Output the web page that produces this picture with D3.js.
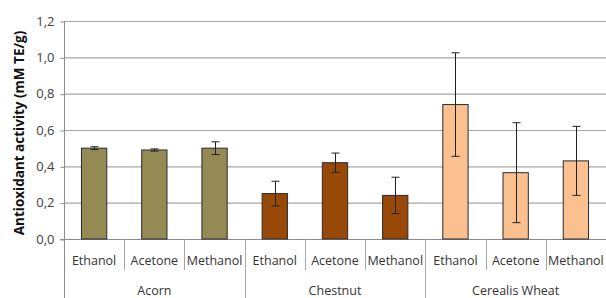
<!DOCTYPE html>
<html>
<head>
<meta charset="utf-8">
<script src="https://cdn.jsdelivr.net/npm/d3@7"></script>
<style>
  body { margin: 0; background: #fff; }
  text { font-family: "Open Sans", "Liberation Sans", sans-serif; }
</style>
</head>
<body>
<svg id="chart" width="606" height="298"></svg>
<script>
// data
const groups = ["Acorn", "Chestnut", "Cerealis Wheat"];
const solvents = ["Ethanol", "Acetone", "Methanol"];
const values = [
  [0.50, 0.49, 0.50],
  [0.25, 0.42, 0.24],
  [0.74, 0.365, 0.43]
];
const errors = [
  [0.008, 0.006, 0.035],
  [0.068, 0.053, 0.10],
  [0.285, 0.275, 0.19]
];
const yTicks = [0, 0.2, 0.4, 0.6, 0.8, 1.0, 1.2];
const colors = ["#948a54", "#984807", "#fac090"];

const svg = d3.select("#chart");
const plotLeft = 64, plotRight = 606, plotTop = 21, plotBottom = 239;

const data = [];
groups.forEach((g, gi) => solvents.forEach((s, si) => data.push({
  key: g + "|" + s, group: g, solvent: s, gi,
  value: values[gi][si], err: errors[gi][si]
})));

const x = d3.scaleBand()
  .domain(data.map(d => d.key))
  .range([plotLeft, plotRight])
  .paddingInner(0)
  .paddingOuter(0);

const y = d3.scaleLinear().domain([0, 1.2]).range([plotBottom, plotTop]);

// gridlines
svg.append("g")
  .selectAll("line")
  .data(yTicks.slice(1))
  .enter().append("line")
    .attr("x1", plotLeft).attr("x2", plotRight)
    .attr("y1", d => y(d) + 0.5).attr("y2", d => y(d) + 0.5)
    .attr("stroke", "#a6a6a6").attr("stroke-width", 1.2);

// y axis
const yAxis = svg.append("g")
  .attr("transform", `translate(${plotLeft + 0.5},0)`)
  .call(d3.axisLeft(y).tickValues(yTicks).tickSize(4).tickPadding(6)
    .tickFormat(d => d3.format(".1f")(d).replace(".", ",")));
yAxis.select(".domain").remove();
yAxis.selectAll(".tick line").attr("stroke", "#8c8c8c").attr("transform", "translate(0,0.5)");
yAxis.selectAll(".tick text")
  .attr("font-size", "13px").attr("fill", "#404040")
  .attr("font-family", "'Open Sans', sans-serif");

// axis lines
svg.append("line")
  .attr("x1", plotLeft + 0.5).attr("x2", plotLeft + 0.5)
  .attr("y1", plotTop).attr("y2", 298)
  .attr("stroke", "#8c8c8c");
svg.append("line")
  .attr("x1", plotLeft - 4).attr("x2", plotRight)
  .attr("y1", plotBottom + 0.5).attr("y2", plotBottom + 0.5)
  .attr("stroke", "#8c8c8c").attr("stroke-width", 1.2);

// bars
const bw = x.bandwidth() * 0.42;
svg.append("g")
  .selectAll("rect")
  .data(data)
  .enter().append("rect")
    .attr("x", d => x(d.key) + (x.bandwidth() - bw) / 2)
    .attr("y", d => y(d.value))
    .attr("width", bw)
    .attr("height", d => plotBottom - y(d.value))
    .attr("fill", d => colors[d.gi])
    .attr("stroke", "#2b2b2b")
    .attr("stroke-width", 1);

// error bars
const eb = svg.append("g").attr("stroke", "#222").attr("stroke-width", 1);
data.forEach(d => {
  const cx = Math.round(x(d.key) + x.bandwidth() / 2) + 0.5;
  const y1 = y(d.value + d.err), y2 = y(d.value - d.err);
  eb.append("line").attr("x1", cx).attr("x2", cx).attr("y1", y1).attr("y2", y2);
  eb.append("line").attr("x1", cx - 4).attr("x2", cx + 4).attr("y1", y1).attr("y2", y1);
  eb.append("line").attr("x1", cx - 4).attr("x2", cx + 4).attr("y1", y2).attr("y2", y2);
});

// category separators
svg.append("g")
  .selectAll("line")
  .data(data.slice(1))
  .enter().append("line")
    .attr("x1", d => Math.round(x(d.key)) + 0.5)
    .attr("x2", d => Math.round(x(d.key)) + 0.5)
    .attr("y1", plotBottom)
    .attr("y2", d => solvents.indexOf(d.solvent) === 0 ? 298 : 270)
    .attr("stroke", "#a6a6a6");

// solvent labels
svg.append("g")
  .selectAll("text")
  .data(data)
  .enter().append("text")
    .attr("x", d => x(d.key) + x.bandwidth() / 2)
    .attr("y", 265)
    .attr("text-anchor", "middle")
    .attr("font-size", "12.5px")
    .attr("fill", "#333")
    .text(d => d.solvent);

// group labels
svg.append("g")
  .selectAll("text")
  .data(groups)
  .enter().append("text")
    .attr("x", g => x(g + "|" + solvents[1]) + x.bandwidth() / 2)
    .attr("y", 295)
    .attr("text-anchor", "middle")
    .attr("font-size", "12.5px")
    .attr("fill", "#333")
    .text(g => g);

// y axis title
svg.append("text")
  .attr("transform", "translate(24,133) rotate(-90)")
  .attr("text-anchor", "middle")
  .attr("font-size", "13.5px")
  .attr("font-weight", "bold")
  .attr("fill", "#111")
  .text("Antioxidant activity (mM TE/g)");
</script>
</body>
</html>
